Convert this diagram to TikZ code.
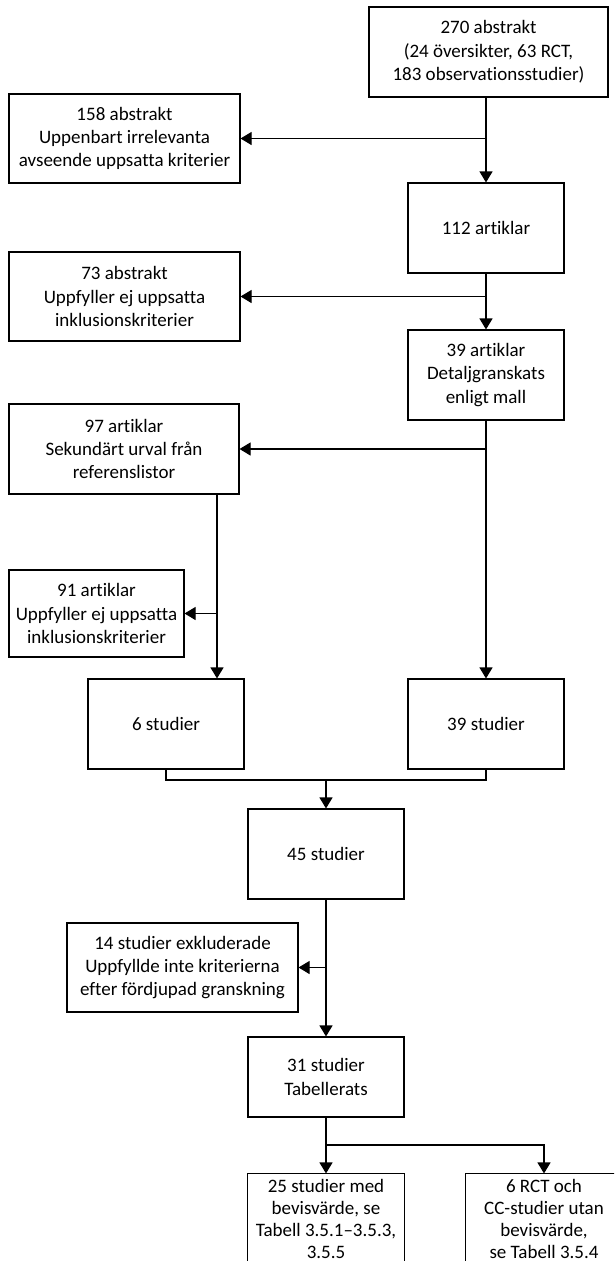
\documentclass[tikz,border=0pt]{standalone}
\usepackage{fontspec}
\setmainfont{Carlito}[Ligatures=NoCommon]
\usetikzlibrary{arrows.meta}
\begin{document}
\begin{tikzpicture}[x=1pt,y=1pt,
  box/.style={draw, line width=1.1pt, align=center, inner sep=0pt, font=\fontsize{19}{23.3}\selectfont},
  openbox/.style={box, draw=none, font=\fontsize{19}{22}\selectfont},
  arr/.style={line width=1.1pt, -{Triangle[width=13pt,length=11pt]}},
  ln/.style={line width=1.1pt}]
\useasboundingbox (0,0) rectangle (614,-1261);
\clip (0,0) rectangle (614,-1261);
\fill[white] (0,0) rectangle (614,-1261);

\node[box, minimum width=239pt, minimum height=90pt] (A) at (488.5,-52) {270 abstrakt\\(24 översikter, 63 RCT,\\183 observationsstudier)};
\node[box, minimum width=231pt, minimum height=89pt] (B) at (124.5,-138.5) {158 abstrakt\\Uppenbart irrelevanta\\avseende uppsatta kriterier};
\node[box, minimum width=156pt, minimum height=90pt] (C) at (486,-228) {112 artiklar};
\node[box, minimum width=231pt, minimum height=89pt] (D) at (124.5,-296.5) {73 abstrakt\\Uppfyller ej uppsatta\\inklusionskriterier};
\node[box, minimum width=156pt, minimum height=90pt] (E) at (486,-375) {39 artiklar\\Detaljgranskats\\enligt mall};
\node[box, minimum width=230pt, minimum height=90pt] (F) at (124,-449) {97 artiklar\\Sekundärt urval från\\referenslistor};
\node[box, minimum width=175pt, minimum height=87pt] (G) at (96.5,-613.5) {91 artiklar\\Uppfyller ej uppsatta\\inklusionskriterier};
\node[box, minimum width=156pt, minimum height=90pt] (H) at (166,-724) {6 studier};
\node[box, minimum width=156pt, minimum height=90pt] (I) at (486,-724) {39 studier};
\node[box, minimum width=156pt, minimum height=90pt] (J) at (326,-854) {45 studier};
\node[box, minimum width=231pt, minimum height=89pt] (K) at (182.5,-967.5) {14 studier exkluderade\\Uppfyllde inte kriterierna\\efter fördjupad granskning};
\node[box, minimum width=156pt, minimum height=80pt] (L) at (326,-1077) {31 studier\\Tabellerats};
\node[openbox, minimum width=156pt, minimum height=90pt] (M) at (326,-1219) {25 studier med\\bevisvärde, se\\Tabell 3.5.1–3.5.3,\\3.5.5};
\node[openbox, minimum width=156pt, minimum height=90pt] (N) at (544,-1219) {6 RCT och\\CC-studier utan\\bevisvärde,\\se Tabell 3.5.4};
\draw[ln] (M.south west) ++(0,-20) |- (M.north east) -- ++(0,-110);
\draw[ln] (N.south west) ++(0,-20) |- (N.north east) -- ++(0,-110);

\draw[arr] (C.north |- A.south) -- (C.north);
\draw[arr] (C.north |- B.east) -- (B.east);
\draw[arr] (C.south) -- (E.north);
\draw[arr] (C.south |- D.east) -- (D.east);
\draw[arr] (E.south) -- (I.north);
\draw[arr] (E.south |- F.east) -- (F.east);
\coordinate (fout) at (217,-494);
\draw[arr] (fout) -- (fout |- H.north);
\draw[arr] (fout |- G.east) -- (G.east);
\coordinate (brk) at (326,-780);
\draw[ln] (H.south) |- (brk) -| (I.south);
\draw[arr] (brk) -- (J.north);
\draw[arr] (J.south) -- (L.north);
\draw[arr] (J.south |- K.east) -- (K.east);
\coordinate (spl) at (326,-1145);
\draw[ln] (L.south) -- (spl);
\draw[arr] (spl) -- (M.north);
\draw[arr] (spl) -| (N.north);
\end{tikzpicture}
\end{document}
